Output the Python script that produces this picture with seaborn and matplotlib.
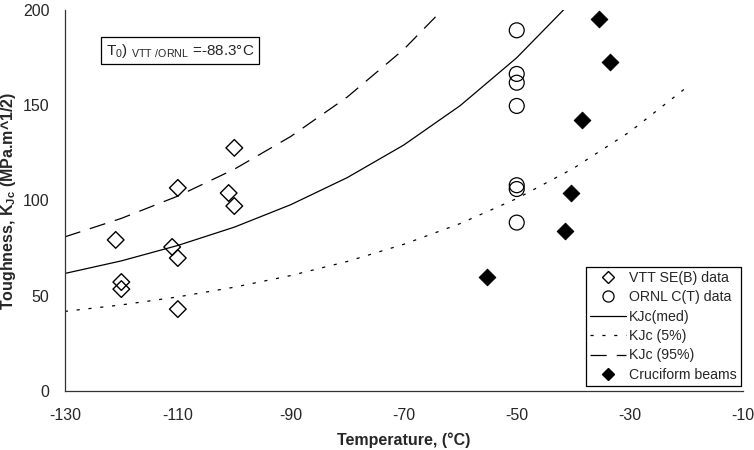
import matplotlib
matplotlib.use("Agg")
import matplotlib.pyplot as plt
import seaborn as sns
import pandas as pd
from matplotlib.lines import Line2D

# Datos
vtt_temp = [-121, -120, -120, -111, -110, -110, -110, -101, -100, -100]
vtt_kjc = [79.3, 57.2, 53.5, 75.6, 69.8, 106.6, 43.0, 103.9, 97.1, 127.6]

ornl_temp = [-50, -50, -50, -50, -50, -50, -50]
ornl_kjc = [189.3, 166.4, 161.8, 149.6, 108.0, 106.0, 88.4]

cruc_temp = [-35.5, -33.5, -38.4, -40.4, -41.4, -55.3]
cruc_kjc = [195.1, 172.4, 142.3, 104.1, 84.0, 59.8]

curve_temp = [-130, -120, -110, -100, -90, -80, -70, -60, -50, -40, -30, -20]
kjc_med = [61.7, 68.3, 76.4, 86.0, 97.8, 112.0, 129.1, 149.8, 174.9, 205.2]
kjc_5 = [41.8, 45.2, 49.4, 54.5, 60.6, 68.0, 77.0, 87.9, 101.0, 116.8, 136.0, 159.2]
kjc_95 = [80.9, 90.6, 102.3, 116.4, 133.6, 154.3, 179.3, 209.6]

x_ticks = [-130, -110, -90, -70, -50, -30, -10]
y_ticks = [0, 50, 100, 150, 200]

sns.set_style("white")
plt.rcParams["font.family"] = ["Liberation Sans", "DejaVu Sans"]
plt.rcParams["mathtext.fontset"] = "custom"
plt.rcParams["mathtext.rm"] = "Liberation Sans"
plt.rcParams["mathtext.bf"] = "Liberation Sans:bold"
plt.rcParams["axes.unicode_minus"] = False

fig = plt.figure(figsize=(7.54, 4.5), dpi=100)
ax = fig.add_axes([0.086, 0.131, 0.899, 0.847])

# Curvas maestras
sns.lineplot(x=curve_temp[:len(kjc_med)], y=kjc_med, ax=ax, color="black", lw=0.9)
sns.lineplot(x=curve_temp, y=kjc_5, ax=ax, color="black", lw=0.9, linestyle=(0, (2.5, 7)))
sns.lineplot(x=curve_temp[:len(kjc_95)], y=kjc_95, ax=ax, color="black", lw=0.9, linestyle=(0, (13, 8)))

# Datos experimentales
sns.scatterplot(x=vtt_temp, y=vtt_kjc, ax=ax, marker="D", s=72,
                facecolors="none", edgecolors="black", linewidth=1, zorder=3)
sns.scatterplot(x=ornl_temp, y=ornl_kjc, ax=ax, marker="o", s=115,
                facecolors="none", edgecolors="black", linewidth=0.9, zorder=3)
sns.scatterplot(x=cruc_temp, y=cruc_kjc, ax=ax, marker="D", s=72,
                color="black", edgecolor="black", zorder=3)

ax.set_xlim(-130, -10)
ax.set_ylim(0, 200)
ax.set_xticks(x_ticks)
ax.set_yticks(y_ticks)
ax.tick_params(axis="x", direction="in", length=4, pad=12, labelsize=11.5, color="#333333")
ax.tick_params(axis="y", direction="out", length=5, pad=6, labelsize=11.5, color="#333333")
sns.despine(ax=ax)
for s in ["left", "bottom"]:
    ax.spines[s].set_color("#333333")
    ax.spines[s].set_linewidth(0.9)

ax.set_xlabel("Temperature, (°C)", fontsize=11.5, fontweight="bold", labelpad=7)
ax.set_ylabel(r"Toughness, K$_{\mathbf{Jc}}$ (MPa.m^1/2)", fontsize=11.5, fontweight="bold")
ax.yaxis.set_label_coords(-0.069, 0.5)

# Caja de T0
ax.text(0.060, 0.893, r"T$_0$) $_{\mathrm{VTT\ /ORNL}}$ =-88.3°C", transform=ax.transAxes,
        fontsize=11, ha="left", va="center",
        bbox=dict(boxstyle="square,pad=0.3", fc="white", ec="black", lw=0.9))

# Leyenda
handles = [
    Line2D([], [], ls="none", marker="D", ms=6, mfc="none", mec="black", mew=1),
    Line2D([], [], ls="none", marker="o", ms=8, mfc="none", mec="black", mew=0.9),
    Line2D([], [], color="black", lw=0.9),
    Line2D([], [], color="black", lw=0.9, ls=(0, (2.5, 7))),
    Line2D([], [], color="black", lw=0.9, ls=(0, (13, 8))),
    Line2D([], [], ls="none", marker="D", ms=6, color="black"),
]
labels = ["VTT SE(B) data", "ORNL C(T) data", "KJc(med)", "KJc (5%)", "KJc (95%)", "Cruciform beams"]
leg = ax.legend(handles, labels, loc="lower right", bbox_to_anchor=(0.998, 0.013),
                fontsize=10.2, frameon=True, fancybox=False, framealpha=1,
                edgecolor="black", handlelength=2.5, handletextpad=0.25,
                labelspacing=0.38, borderpad=0.3, borderaxespad=0)
leg.get_frame().set_linewidth(0.9)

plt.savefig("out.png", dpi=100)
